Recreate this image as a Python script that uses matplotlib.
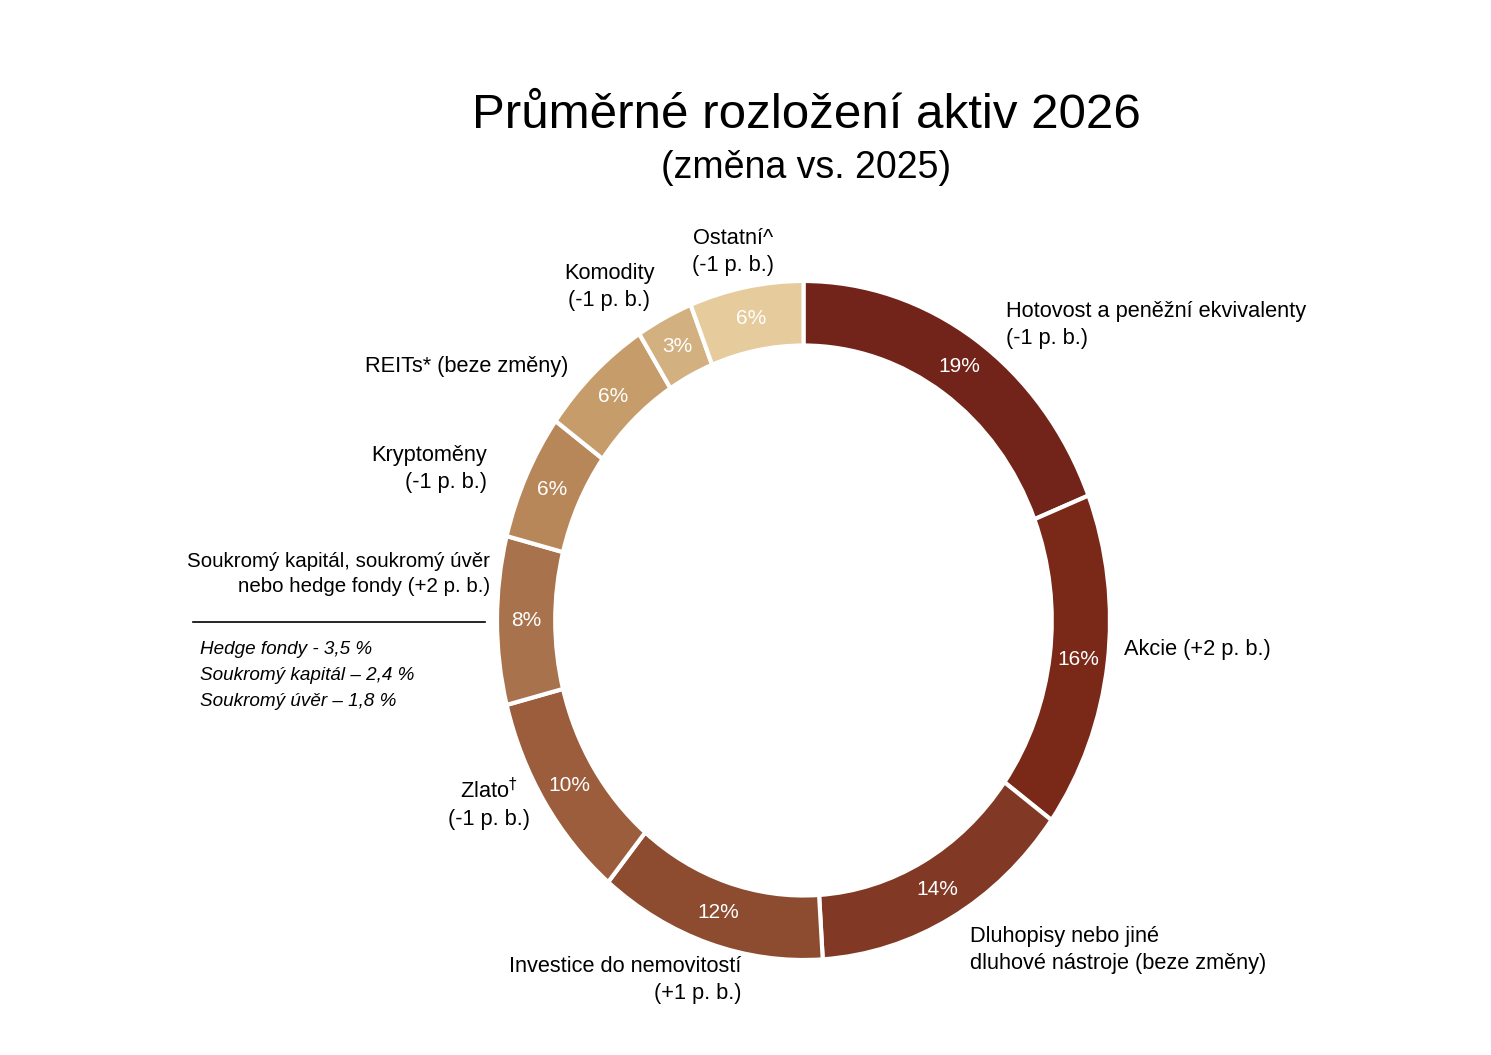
import matplotlib
matplotlib.use("Agg")
import matplotlib.pyplot as plt

plt.rcParams["font.family"] = ["Liberation Sans", "DejaVu Sans"]

# data, clockwise from 12 o'clock
shares = [19, 16, 14, 12, 10, 8, 6, 6, 3, 6]
names = [
    "Hotovost a peněžní ekvivalenty\n(-1 p. b.)",
    "Akcie (+2 p. b.)",
    "Dluhopisy nebo jiné\ndluhové nástroje (beze změny)",
    "Investice do nemovitostí\n(+1 p. b.)",
    "Zlato$^{\\dagger}$\n(-1 p. b.)",
    "Soukromý kapitál, soukromý úvěr\nnebo hedge fondy (+2 p. b.)",
    "Kryptoměny\n(-1 p. b.)",
    "REITs* (beze změny)",
    "Komodity\n(-1 p. b.)",
    "Ostatní^\n(-1 p. b.)",
]
colors = ["#72241a", "#7a2818", "#813925", "#8d4b30", "#9b5d3c",
          "#a8724d", "#b78659", "#c69c6b", "#d3b080", "#e6cb9c"]
breakdown = ["Hedge fondy - 3,5 %", "Soukromý kapitál – 2,4 %", "Soukromý úvěr – 1,8 %"]

W, H = 1491, 1055
fig = plt.figure(figsize=(W / 100, H / 100), dpi=100)

# donut box in pixels (the reference ring is slightly taller than wide)
cx, cy, rx, ry = 803.5, 620.5, 306.5, 339.5
ax = fig.add_axes([(cx - rx) / W, (H - cy - ry) / H, 2 * rx / W, 2 * ry / H])
wedges, _, pcts = ax.pie(
    shares, colors=colors, startangle=90, counterclock=False, radius=1.0,
    autopct=lambda p: f"{p:.0f}%", pctdistance=0.905,
    wedgeprops=dict(width=0.19, edgecolor="white", linewidth=3),
    textprops=dict(color="white", fontsize=15),
)
ax.set_aspect("auto")
ax.set_xlim(-1, 1)
ax.set_ylim(-1, 1)
ax.axis("off")


def px(x, y):
    return x / W, 1 - y / H


fig.text(*px(806, 115), "Průměrné rozložení aktiv 2026", fontsize=35.5,
         ha="center", va="center")
fig.text(*px(806, 168), "(změna vs. 2025)", fontsize=27, ha="center", va="center")

# outer label anchors (pixel x, y of block centre, alignment, size)
label_pos = [
    (1006, 325, "left", 15.7),
    (1124, 650, "left", 15.7),
    (970, 950, "left", 15.7),
    (741, 980, "right", 15.7),
    (489, 804, "center", 15.7),
    (490, 574, "right", 14.8),
    (487, 469, "right", 15.7),
    (568, 367, "right", 15.7),
    (609, 287, "center", 15.7),
    (733, 252, "center", 15.7),
]
for name, (x, y, ha, fs) in zip(names, label_pos):
    fig.text(*px(x, y), name, fontsize=fs, ha=ha, va="center",
             multialignment=ha, linespacing=1.35)

fig.add_artist(plt.Line2D([193 / W, 485 / W], [1 - 622 / H, 1 - 622 / H],
                          color="black", linewidth=1.2))
for i, line in enumerate(breakdown):
    fig.text(*px(200, 649 + 26.5 * i), line, fontsize=13.6, style="italic",
             ha="left", va="center")

fig.savefig("out.png", dpi=100, facecolor="white")
